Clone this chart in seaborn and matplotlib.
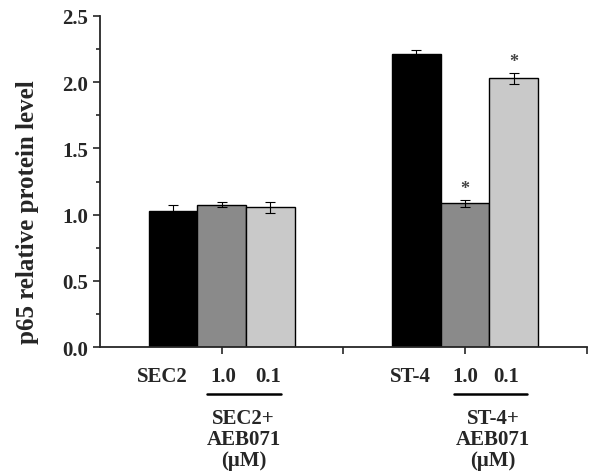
import matplotlib
matplotlib.use('Agg')
import matplotlib.pyplot as plt
import seaborn as sns
import pandas as pd
import numpy as np

# Данные
groups = ['SEC2', 'SEC2', 'SEC2', 'ST-4', 'ST-4', 'ST-4']
doses = ['control', '1.0', '0.1', 'control', '1.0', '0.1']
positions = [0.6, 1.0, 1.4, 2.6, 3.0, 3.4]
values = [1.03, 1.075, 1.055, 2.21, 1.085, 2.03]
errors = [0.04, 0.02, 0.04, 0.03, 0.025, 0.04]
stars = ['', '', '', '', '*', '*']
dose_palette = {'control': '#000000', '1.0': '#8a8a8a', '0.1': '#c9c9c9'}

df = pd.DataFrame({'pos': positions, 'value': values, 'err': errors,
                   'dose': doses, 'group': groups, 'star': stars})

sns.set_style('ticks')
plt.rcParams['font.family'] = ['Liberation Serif', 'DejaVu Serif']
plt.rcParams['font.weight'] = 'bold'

fig = plt.figure(figsize=(5.91, 4.77), dpi=100)
ax = fig.add_axes([0.169, 0.2704, 0.824, 0.694])

sns.barplot(data=df, x='pos', y='value', hue='dose', palette=dose_palette,
            native_scale=True, width=1.0, dodge=False, legend=False,
            edgecolor='black', linewidth=1.0, ax=ax, errorbar=None)
ax.errorbar(df['pos'], df['value'], yerr=df['err'], fmt='none',
            ecolor='black', elinewidth=0.8, capsize=3.5, capthick=0.8)

# Звёздочки значимости
for _, r in df.iterrows():
    if r['star']:
        ax.text(r['pos'], r['value'] + r['err'] + 0.02, r['star'],
                ha='center', va='bottom', fontsize=13, color='#444444')

ax.set_xlim(0, 4)
ax.set_ylim(0, 2.5)
ax.set_yticks(np.arange(0, 2.51, 0.5))
ax.set_yticks(np.arange(0.25, 2.5, 0.5), minor=True)
ax.set_yticklabels([f'{v:.1f}' for v in np.arange(0, 2.51, 0.5)])
ax.set_xticks([1, 2, 3, 4])
ax.set_xticklabels([])
ax.tick_params(axis='both', direction='out', length=5, width=1.2, labelsize=15)
ax.tick_params(axis='y', which='minor', length=3, width=1.2)
ax.set_xlabel('')
ax.set_ylabel('p65 relative protein level', fontsize=18, fontweight='bold')
ax.yaxis.set_label_coords(-0.125, 0.41)
for s in ['left', 'bottom']:
    ax.spines[s].set_linewidth(1.3)
sns.despine(ax=ax)

# Подписи под осью
trans = ax.get_xaxis_transform()
label_y = -0.088
layout = [('SEC2', 0.51, 1.01, 1.38, (0.88, 1.49), 1.18),
          ('ST-4', 2.55, 3.0, 3.34, (2.91, 3.51), 3.23)]
for g, xg, x1, x2, (l0, l1), xb in layout:
    ax.text(xg, label_y, g, transform=trans, ha='center', va='center',
            fontsize=15, fontweight='bold')
    ax.text(x1, label_y, '1.0', transform=trans, ha='center', va='center',
            fontsize=15, fontweight='bold')
    ax.text(x2, label_y, '0.1', transform=trans, ha='center', va='center',
            fontsize=15, fontweight='bold')
    ax.plot([l0, l1], [-0.142, -0.142], transform=trans,
            color='black', lw=1.8, clip_on=False)
    ax.text(xb, -0.185, f'{g}+\nAEB071\n(\u03bcM)', transform=trans,
            ha='center', va='top', fontsize=15, fontweight='bold', linespacing=1.05)

plt.savefig('out.png', dpi=100)
plt.close()
